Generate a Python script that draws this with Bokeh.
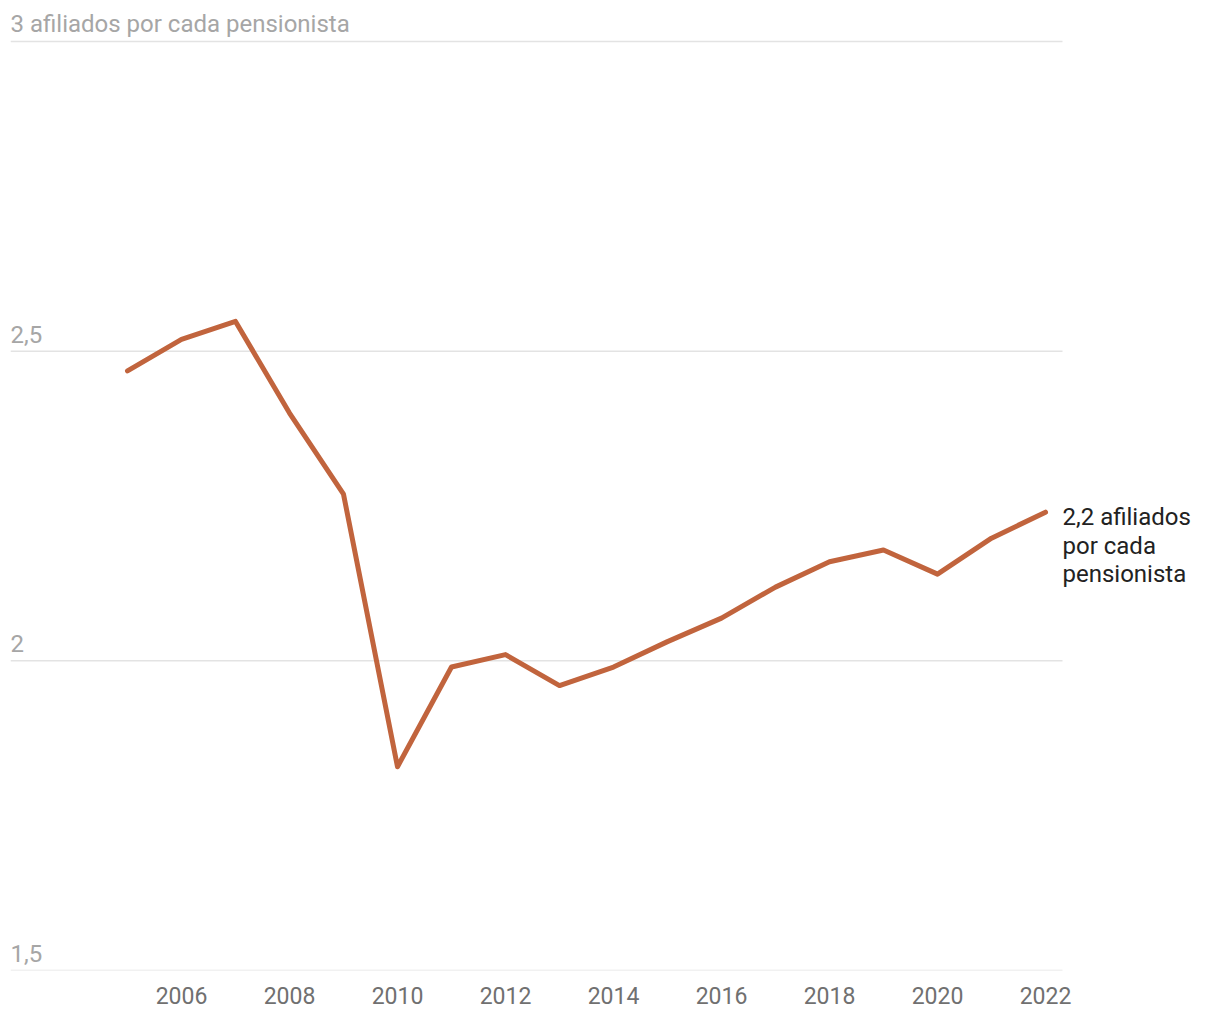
from bokeh.plotting import figure
from bokeh.models import ColumnDataSource, FixedTicker, Range1d
from bokeh.core.properties import value
from bokeh.embed import file_html
from bokeh.resources import INLINE

years = [2005, 2006, 2007, 2008, 2009, 2010, 2011, 2012, 2013, 2014,
         2015, 2016, 2017, 2018, 2019, 2020, 2021, 2022]
ratio = [2.468, 2.519, 2.548, 2.400, 2.269, 1.829, 1.990, 2.010, 1.960, 1.990,
         2.031, 2.069, 2.119, 2.160, 2.179, 2.140, 2.198, 2.240]
y_ticks = [1.5, 2.0, 2.5, 3.0]
y_labels = ["1,5", "2", "2,5", "3 afiliados por cada pensionista"]
x_ticks = [2006, 2008, 2010, 2012, 2014, 2016, 2018, 2020, 2022]
end_label = ["2,2 afiliados", "por cada", "pensionista"]

FONT = "Roboto"
LINE = "#C1643D"

x_start = 2005 - 117 / 54
p = figure(width=1212, height=1012, output_backend="svg", toolbar_location=None,
           x_range=Range1d(x_start, x_start + 1202 / 54),
           y_range=Range1d(1.5, 3 + 33 / 620),
           min_border_left=10, min_border_right=0, min_border_top=8,
           min_border_bottom=42)
p.outline_line_color = None
p.grid.visible = False
p.yaxis.visible = False

xa = p.xaxis[0]
xa.ticker = FixedTicker(ticks=x_ticks)
xa.axis_line_color = None
xa.major_tick_line_color = None
xa.minor_tick_line_color = None
xa.major_label_text_font = FONT
xa.major_label_text_font_size = "23px"
xa.major_label_text_color = "#707070"
xa.major_label_standoff = 10

grid_end = 2022 + 17 / 54
gsrc = ColumnDataSource(dict(x0=[x_start] * len(y_ticks), x1=[grid_end] * len(y_ticks), y=y_ticks, lab=y_labels))
p.segment(x0="x0", y0="y", x1="x1", y1="y", source=gsrc, line_color="#e3e3e3", line_width=1.5)
p.text(x="x0", y="y", text="lab", source=gsrc, text_font=value(FONT), text_font_size="24px",
       text_color="#a6a6a6", text_baseline="alphabetic", text_align="left", y_offset=-17)

p.line(years, ratio, line_color=LINE, line_width=5, line_cap="round", line_join="round")

esrc = ColumnDataSource(dict(x=[years[-1]] * 3, y=[ratio[-1]] * 3, t=end_label, dy=[5, 33.5, 62]))
p.text(x="x", y="y", text="t", source=esrc, x_offset=17, y_offset="dy",
       text_font=value(FONT), text_font_size="24px", text_color="#222222",
       text_baseline="alphabetic", text_align="left")

open("out.html", "w").write(file_html(p, INLINE))
